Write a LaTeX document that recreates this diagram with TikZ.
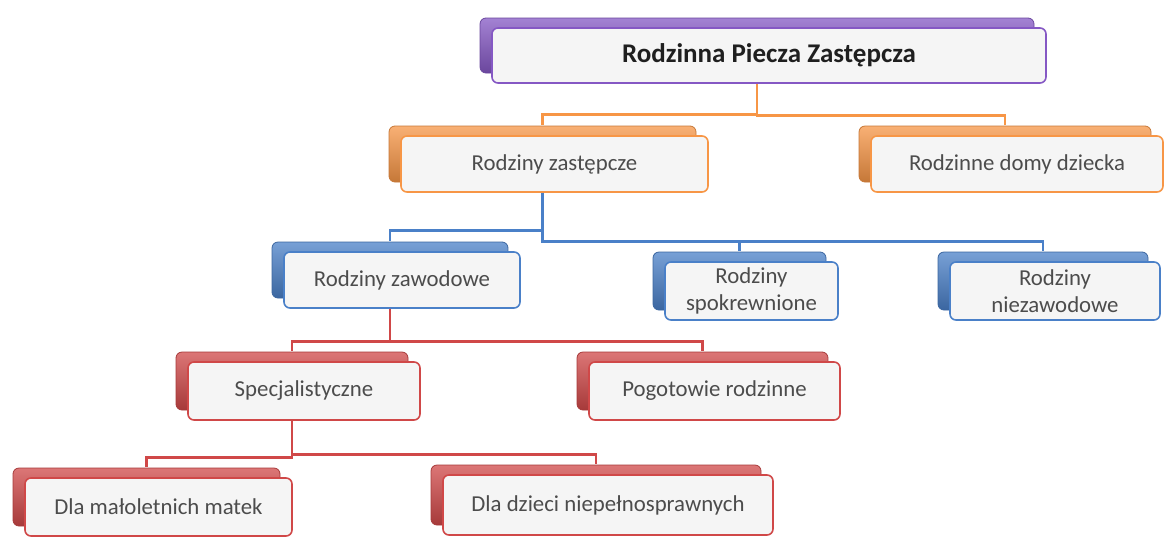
\documentclass[tikz,border=0pt]{standalone}
\usepackage{fontspec}
\setmainfont{Carlito}
\usetikzlibrary{calc,shadows}
\definecolor{purp}{HTML}{8558C4}
\definecolor{oran}{HTML}{F79646}
\definecolor{blu}{HTML}{4A80C8}
\definecolor{rd}{HTML}{D04848}
\tikzset{
  box/.style={draw=#1, line width=0.8pt, rounded corners=3pt, fill=#1!4!black!4!white,
    text=black!70, font=\fontsize{11.4}{13.5}\selectfont, align=center, inner sep=0pt,
    general shadow={shadow xshift=-6pt, shadow yshift=5pt, top color=#1!75!white,
      middle color=#1, bottom color=#1!80!black, draw=#1!80!black, line width=0.4pt}},
  link/.style={draw=#1, line width=1.3pt}
}

\begin{document}
\begin{tikzpicture}[x=0.5pt,y=-0.5pt]
  \useasboundingbox (0,0) rectangle (1165,536);
  \node[box=purp, minimum width=277pt, minimum height=27.5pt, text=black!88,
        font=\fontsize{13.5}{15}\selectfont\bfseries] (rpz) at (769,55.5) {Rodzinna Piecza Zastępcza};
  \node[box=oran, minimum width=153.5pt, minimum height=28pt] (zast) at (554.5,164) {Rodziny zastępcze};
  \node[box=oran, minimum width=146pt, minimum height=28pt] (rdd) at (1017,164) {Rodzinne domy dziecka};
  \node[box=blu, minimum width=118pt, minimum height=28pt] (zaw) at (402,280) {Rodziny zawodowe};
  \node[box=blu, minimum width=86.5pt, minimum height=29pt] (spok) at (751.5,291) {Rodziny\\spokrewnione};
  \node[box=blu, minimum width=105pt, minimum height=29pt] (niez) at (1055,291) {Rodziny\\niezawodowe};
  \node[box=rd, minimum width=116pt, minimum height=29pt] (spec) at (304,391) {Specjalistyczne};
  \node[box=rd, minimum width=125.5pt, minimum height=29pt] (pogot) at (714.5,391) {Pogotowie rodzinne};
  \node[box=rd, minimum width=133.5pt, minimum height=29pt] (matek) at (158.5,507) {Dla małoletnich matek};
  \node[box=rd, minimum width=165pt, minimum height=30pt] (niep) at (608,505) {Dla dzieci niepełnosprawnych};

  % elbows: parent back box -> bar -> child back box
  \draw[link=oran] ([xshift=-6pt]rpz.south) |- ([shift={(-6pt,10.5pt)}]zast.north) -- ([shift={(-6pt,5pt)}]zast.north);
  \draw[link=oran] ([xshift=-6pt]rpz.south) |- ([shift={(-6pt,10pt)}]rdd.north) -- ([shift={(-6pt,5pt)}]rdd.north);
  \draw[link=blu] ([xshift=-6pt]zast.south) |- ([shift={(-6pt,10.5pt)}]zaw.north) -- ([shift={(-6pt,5pt)}]zaw.north);
  \draw[link=blu] ([xshift=-6pt]zast.south) |- ([shift={(-6pt,10pt)}]spok.north) -- ([shift={(-6pt,5pt)}]spok.north);
  \draw[link=blu] ([xshift=-6pt]zast.south) |- ([shift={(-6pt,10pt)}]niez.north) -- ([shift={(-6pt,5pt)}]niez.north);
  \draw[link=rd] ([xshift=-6pt]zaw.south) |- ([shift={(-6pt,10pt)}]spec.north) -- ([shift={(-6pt,5pt)}]spec.north);
  \draw[link=rd] ([xshift=-6pt]zaw.south) |- ([shift={(-6pt,10pt)}]pogot.north) -- ([shift={(-6pt,5pt)}]pogot.north);
  \draw[link=rd] ([xshift=-6pt]spec.south) |- ([shift={(-6pt,10pt)}]matek.north) -- ([shift={(-6pt,5pt)}]matek.north);
  \draw[link=rd] ([xshift=-6pt]spec.south) |- ([shift={(-6pt,10pt)}]niep.north) -- ([shift={(-6pt,5pt)}]niep.north);
\end{tikzpicture}
\end{document}
